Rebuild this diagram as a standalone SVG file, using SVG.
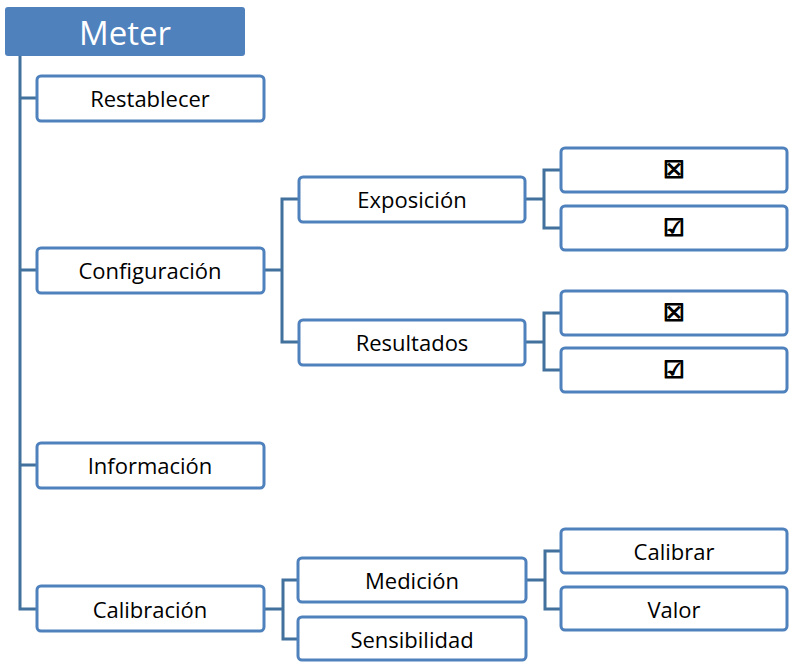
<svg xmlns="http://www.w3.org/2000/svg" width="790" height="662" viewBox="0 0 790 662">
<style>
.box{fill:#fff;stroke:#4f81bd;stroke-width:3}
.lbl{font-family:"Open Sans","Liberation Sans",sans-serif;font-size:22px;fill:#000;text-anchor:middle;dominant-baseline:central}
.chk{font-family:"DejaVu Sans",sans-serif;font-size:24px;font-weight:bold;fill:#000;stroke:#000;stroke-width:1.2;text-anchor:middle;dominant-baseline:central}
.conn{fill:none;stroke:#41719c;stroke-width:3}
</style>
<rect width="790" height="662" fill="#fff"/>
<g id="connectors">
<path class="conn" d="M20,56 V609 H37 M20,98 H37 M20,270 H37 M20,465 H37"/>
<path class="conn" d="M264,270 H282 M299,199 H282 V342 H299"/>
<path class="conn" d="M525,199 H544 M561,170 H544 V228 H561"/>
<path class="conn" d="M525,342 H544 M561,313 H544 V370 H561"/>
<path class="conn" d="M264,609 H283 M298,580 H283 V639 H298"/>
<path class="conn" d="M526,580 H545 M561,551 H545 V609 H561"/>
</g>
<g id="meter"><rect x="5" y="7" width="240" height="49" rx="3" fill="#4f81bd"/><text x="125" y="32" font-family="Open Sans,Liberation Sans,sans-serif" font-size="33" fill="#fff" text-anchor="middle" dominant-baseline="central">Meter</text></g>
<g id="restablecer"><rect class="box" x="37" y="76" width="227" height="45" rx="4"/><text class="lbl" x="150" y="98">Restablecer</text></g>
<g id="configuracion"><rect class="box" x="37" y="248" width="227" height="45" rx="4"/><text class="lbl" x="150" y="270">Configuración</text></g>
<g id="informacion"><rect class="box" x="37" y="443" width="227" height="45" rx="4"/><text class="lbl" x="150" y="465">Información</text></g>
<g id="calibracion"><rect class="box" x="37" y="586" width="227" height="45" rx="4"/><text class="lbl" x="150" y="609">Calibración</text></g>
<g id="exposicion"><rect class="box" x="299" y="177" width="226" height="45" rx="4"/><text class="lbl" x="412" y="199">Exposición</text></g>
<g id="resultados"><rect class="box" x="299" y="320" width="226" height="45" rx="4"/><text class="lbl" x="412" y="342">Resultados</text></g>
<g id="exp-x"><rect class="box" x="561" y="148" width="226" height="44" rx="4"/><text class="chk" x="674" y="170">☒</text></g>
<g id="exp-v"><rect class="box" x="561" y="206" width="226" height="44" rx="4"/><text class="chk" x="674" y="228">☑</text></g>
<g id="res-x"><rect class="box" x="561" y="291" width="226" height="44" rx="4"/><text class="chk" x="674" y="313">☒</text></g>
<g id="res-v"><rect class="box" x="561" y="348" width="226" height="44" rx="4"/><text class="chk" x="674" y="370">☑</text></g>
<g id="medicion"><rect class="box" x="298" y="558" width="228" height="44" rx="4"/><text class="lbl" x="412" y="580">Medición</text></g>
<g id="sensibilidad"><rect class="box" x="298" y="617" width="228" height="43" rx="4"/><text class="lbl" x="412" y="639">Sensibilidad</text></g>
<g id="calibrar"><rect class="box" x="561" y="529" width="226" height="44" rx="4"/><text class="lbl" x="674" y="551">Calibrar</text></g>
<g id="valor"><rect class="box" x="561" y="587" width="226" height="43" rx="4"/><text class="lbl" x="674" y="609">Valor</text></g>
</svg>
